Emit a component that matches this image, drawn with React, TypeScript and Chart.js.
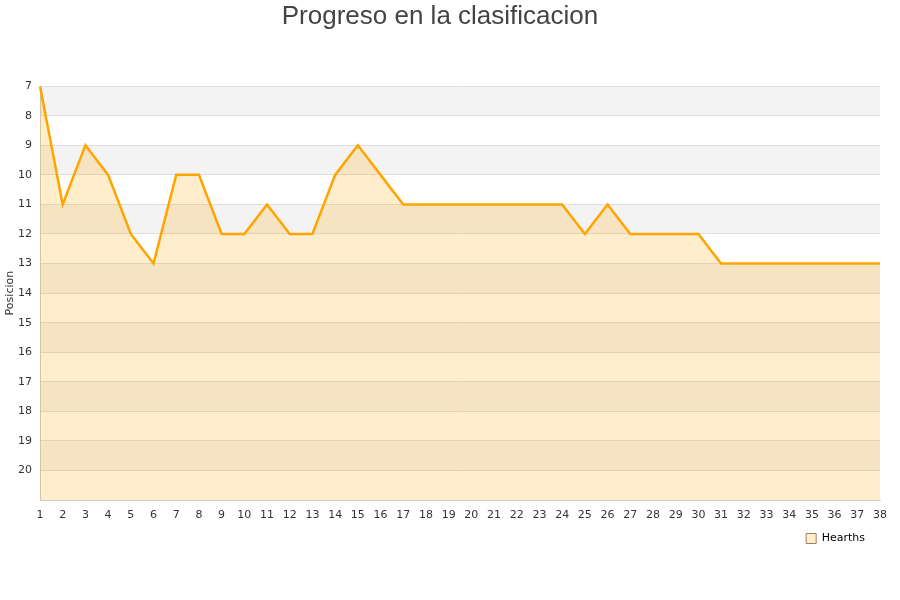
import React, { useEffect, useRef } from "react";
import { Chart, registerables } from "chart.js";

Chart.register(...registerables);

const jornadas: string[] = Array.from({ length: 38 }, (_, i) => String(i + 1));
const posiciones: number[] = [
  7, 11, 9, 10, 12, 13, 10, 10, 12, 12, 11, 12, 12, 10, 9, 10, 11, 11, 11, 11,
  11, 11, 11, 11, 12, 11, 12, 12, 12, 12, 13, 13, 13, 13, 13, 13, 13, 13,
];
const teamName = "Hearths";
const chartTitle = "Progreso en la clasificacion";
const yTitle = "Posicion";
const yMin = 7;
const yMax = 21;

const stripes = {
  id: "stripes",
  beforeDraw(chart: any) {
    const { ctx, chartArea, scales } = chart;
    const y = scales.y;
    if (chart.legend) chart.legend.right = chart.width - 25;
    ctx.save();
    ctx.fillStyle = "#f3f3f3";
    for (let v = yMin; v < yMax; v += 2) {
      const p1 = y.getPixelForValue(v);
      const p2 = y.getPixelForValue(v + 1);
      ctx.fillRect(chartArea.left, Math.min(p1, p2), chartArea.right - chartArea.left, Math.abs(p2 - p1));
    }
    ctx.restore();
  },
};

export default function App() {
  const ref = useRef<HTMLCanvasElement | null>(null);
  useEffect(() => {
    if (!ref.current) return;
    const chart = new Chart(ref.current, {
      type: "line",
      data: {
        labels: jornadas,
        datasets: [
          {
            label: teamName,
            data: posiciones,
            borderColor: "#FFA500",
            backgroundColor: "rgba(255,165,0,0.2)",
            borderWidth: 2.5,
            pointRadius: 0,
            tension: 0,
            fill: "start",
          },
        ],
      },
      options: {
        animation: false,
        responsive: false,
        maintainAspectRatio: false,
        layout: { padding: { left: 0, right: 20, top: 0, bottom: 46 } },
        plugins: {
          title: {
            display: true,
            text: chartTitle,
            color: "#444",
            font: { family: "Liberation Sans", size: 26, weight: "normal" },
            padding: { top: 1, bottom: 54 },
          },
          legend: {
            position: "bottom",
            align: "end",
            labels: {
              boxWidth: 10,
              boxHeight: 10,
              padding: 10,
              color: "#222",
              font: { family: "DejaVu Sans", size: 11 },
              generateLabels: () => [
                {
                  text: teamName,
                  fillStyle: "rgba(255,165,0,0.2)",
                  strokeStyle: "#a08060",
                  lineWidth: 1,
                  datasetIndex: 0,
                },
              ],
            },
          },
          tooltip: { enabled: false },
        },
        scales: {
          x: {
            type: "category",
            offset: false,
            grid: { display: false, drawTicks: false },
            border: { display: true, color: "#cccccc" },
            ticks: {
              color: "#333",
              font: { family: "DejaVu Sans", size: 11 },
              autoSkip: false,
              maxRotation: 0,
              padding: 9,
            },
            afterFit: (s: any) => {
              s.height = 23;
            },
          },
          y: {
            reverse: true,
            min: yMin,
            max: yMax,
            grid: { color: "#dedede", drawTicks: false },
            border: { display: true, color: "#cccccc" },
            ticks: {
              stepSize: 1,
              color: "#333",
              font: { family: "DejaVu Sans", size: 11 },
              padding: 8,
              callback: (v: any) => (v === yMax ? "" : String(v)),
            },
            title: {
              display: true,
              text: yTitle,
              color: "#333",
              font: { family: "DejaVu Sans", size: 11 },
              padding: { top: 4, bottom: 0 },
            },
            afterFit: (s: any) => {
              s.width = 40;
            },
          },
        },
      },
      plugins: [stripes],
    });
    return () => chart.destroy();
  }, []);
  return (
    <div style={{ position: "fixed", left: 0, top: 0, width: 900, height: 600 }}>
      <canvas ref={ref} width={900} height={600} style={{ display: "block" }} />
    </div>
  );
}
